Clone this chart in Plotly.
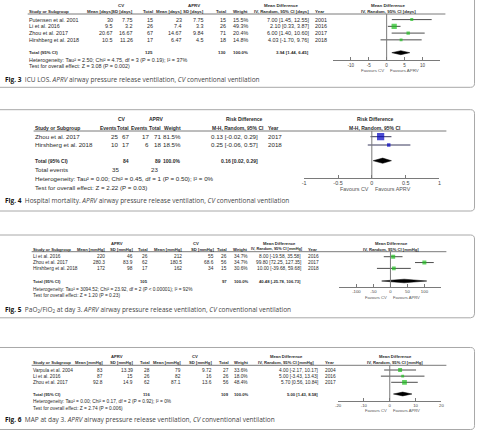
import plotly.graph_objects as go

W, H = 480, 435

# ---------------- DATA ----------------
# Fig. 3  ICU LOS
f3_study = ["Putensen et al. 2001", "Li et al. 2016", "Zhou et al. 2017", "Hirshberg et al. 2018"]
f3_cv_mean = ["30", "9.5", "20.67", "10.5"]
f3_cv_sd = ["7.75", "3.2", "16.67", "11.26"]
f3_cv_total = [15, 26, 67, 17]
f3_aprv_mean = ["23", "7.4", "14.67", "6.47"]
f3_aprv_sd = ["7.75", "3.3", "9.84", "4.5"]
f3_aprv_total = [15, 26, 71, 18]
f3_weight = [15.5, 49.3, 20.4, 14.8]
f3_md = [7.00, 2.10, 6.00, 4.03]
f3_lo = [1.45, 0.33, 1.40, -1.70]
f3_hi = [12.55, 3.87, 10.60, 9.76]
f3_year = [2001, 2016, 2017, 2018]
f3_pooled = [3.94, 1.44, 6.45]
f3_het = "Heterogeneity: Tau² = 2.50; Chi² = 4.75, df = 3 (P = 0.19); I² = 37%"
f3_test = "Test for overall effect: Z = 3.08 (P = 0.002)"
f3_ticks = [-10, -5, 0, 5, 10]
f3_ticktext = ["-10", "-5", "0", "5", "10"]

# Fig. 4  Hospital mortality
f4_study = ["Zhou et al. 2017", "Hirshberg et al. 2018"]
f4_cv_events = [25, 10]
f4_cv_total = [67, 17]
f4_aprv_events = [17, 6]
f4_aprv_total = [71, 18]
f4_weight = [81.5, 18.5]
f4_rd = [0.13, 0.25]
f4_lo = [-0.02, -0.06]
f4_hi = [0.29, 0.57]
f4_year = [2017, 2018]
f4_pooled = [0.16, 0.02, 0.29]
f4_het = "Heterogeneity: Tau² = 0.00; Chi² = 0.45, df = 1 (P = 0.50); I² = 0%"
f4_test = "Test for overall effect: Z = 2.22 (P = 0.03)"
f4_ticks = [-1, -0.5, 0, 0.5, 1]
f4_ticktext = ["-1", "-0.5", "0", "0.5", "1"]

# Fig. 5  PaO2/FiO2 at day 3
f5_study = ["Li et al. 2016", "Zhou et al. 2017", "Hirshberg et al. 2018"]
f5_aprv_mean = ["220", "280.3", "172"]
f5_aprv_sd = ["46", "83.9", "98"]
f5_aprv_total = [26, 62, 17]
f5_cv_mean = ["212", "180.5", "162"]
f5_cv_sd = ["55", "68.6", "34"]
f5_cv_total = [26, 56, 15]
f5_weight = [34.7, 34.7, 30.6]
f5_md = [8.00, 99.80, 10.00]
f5_lo = [-19.58, 72.25, -39.68]
f5_hi = [35.58, 127.35, 59.68]
f5_year = [2016, 2017, 2018]
f5_pooled = [40.48, -25.78, 106.73]
f5_het = "Heterogeneity: Tau² = 3094.52; Chi² = 23.92, df = 2 (P < 0.00001); I² = 92%"
f5_test = "Test for overall effect: Z = 1.20 (P = 0.23)"
f5_ticks = [-100, -50, 0, 50, 100]
f5_ticktext = ["-100", "-50", "0", "50", "100"]

# Fig. 6  MAP at day 3
f6_study = ["Varpula et al. 2004", "Li et al. 2016", "Zhou et al. 2017"]
f6_aprv_mean = ["83", "87", "92.8"]
f6_aprv_sd = ["13.39", "15", "14.9"]
f6_aprv_total = [28, 26, 62]
f6_cv_mean = ["79", "82", "87.1"]
f6_cv_sd = ["9.72", "16", "13.6"]
f6_cv_total = [27, 26, 56]
f6_weight = [33.6, 18.0, 48.4]
f6_md = [4.00, 5.00, 5.70]
f6_lo = [-2.17, -3.43, 0.56]
f6_hi = [10.17, 13.43, 10.84]
f6_year = [2004, 2016, 2017]
f6_pooled = [5.00, 1.43, 8.58]
f6_het = "Heterogeneity: Tau² = 0.00; Chi² = 0.17, df = 2 (P = 0.92); I² = 0%"
f6_test = "Test for overall effect: Z = 2.74 (P = 0.006)"
f6_ticks = [-20, -10, 0, 10, 20]
f6_ticktext = ["-20", "-10", "0", "10", "20"]

captions = [
    ("Fig. 3", "ICU LOS. <i>APRV</i> airway pressure release ventilation, <i>CV</i> conventional ventilation"),
    ("Fig. 4", "Hospital mortality. <i>APRV</i> airway pressure release ventilation, <i>CV</i> conventional ventilation"),
    ("Fig. 5", "PaO<sub>2</sub>/FiO<sub>2</sub> at day 3. <i>APRV</i> airway pressure release ventilation, <i>CV</i> conventional ventilation"),
    ("Fig. 6", "MAP at day 3. <i>APRV</i> airway pressure release ventilation, <i>CV</i> conventional ventilation"),
]

# ---------------- HELPERS ----------------
FONT = "Liberation Sans"
TXT = "#2a2a2a"
GRID = "#7a7a7a"
fig = go.Figure()
ann = []
shapes = []
layout_axes = {}


def txt(x, y, s, anchor="left", size=5, bold=False, color=TXT, family=FONT):
    if bold:
        s = f"<b>{s}</b>"
    ann.append(dict(x=x / W, y=1 - y / H, xref="paper", yref="paper", text=s,
                    showarrow=False, xanchor=anchor, yanchor="middle", borderpad=0,
                    font=dict(size=size, color=color, family=family)))


def hline(x0, x1, y, color=GRID, width=1):
    shapes.append(dict(type="line", xref="paper", yref="paper", x0=x0 / W, x1=x1 / W,
                       y0=1 - y / H, y1=1 - y / H, line=dict(color=color, width=width)))


def rbox(x0, y0, x1, y1, r=4):
    def p(x, y):
        return f"{x / W:.5f},{1 - y / H:.5f}"
    path = (f"M {p(x0 + r, y0)} L {p(x1 - r, y0)} Q {p(x1, y0)} {p(x1, y0 + r)} "
            f"L {p(x1, y1 - r)} Q {p(x1, y1)} {p(x1 - r, y1)} L {p(x0 + r, y1)} "
            f"Q {p(x0, y1)} {p(x0, y1 - r)} L {p(x0, y0 + r)} Q {p(x0, y0)} {p(x0 + r, y0)} Z")
    shapes.append(dict(type="path", xref="paper", yref="paper", path=path,
                       line=dict(color="#a8a8a8", width=1)))


def forest(idx, xl, xr, rng, ticks, ticktext, ytop, yax, row0, dy, md, lo, hi, weights,
           k, pooled, total_px, sq_color, ci_color, dhalf, tsize, fav_y, fsize):
    xn = "x" if idx == 1 else f"x{idx}"
    yn = "y" if idx == 1 else f"y{idx}"
    xa = "xaxis" if idx == 1 else f"xaxis{idx}"
    ya = "yaxis" if idx == 1 else f"yaxis{idx}"
    layout_axes[xa] = dict(domain=[xl / W, xr / W], range=rng, anchor=yn,
                           tickmode="array", tickvals=ticks, ticktext=ticktext,
                           ticks="inside", ticklen=3, tickcolor=GRID, tickwidth=1,
                           showline=True, linecolor=GRID, linewidth=1,
                           showgrid=False, zeroline=False, fixedrange=True,
                           tickfont=dict(size=tsize, family=FONT, color="#444"))
    layout_axes[ya] = dict(domain=[1 - yax / H, 1 - ytop / H],
                           range=[(yax - row0) / dy, (ytop - row0) / dy],
                           visible=False, anchor=xn, fixedrange=True)
    rows = list(range(len(md)))
    xs, ys = [], []
    for r, a, b in zip(rows, lo, hi):
        xs += [a, b, None]
        ys += [r, r, None]
    fig.add_trace(go.Scatter(x=xs, y=ys, mode="lines", line=dict(color=ci_color, width=0.9),
                             xaxis=xn, yaxis=yn, hoverinfo="skip", showlegend=False))
    fig.add_trace(go.Scatter(x=md, y=rows, mode="markers",
                             marker=dict(symbol="square", size=[k * w ** 0.5 for w in weights],
                                         color=sq_color, line=dict(width=0)),
                             xaxis=xn, yaxis=yn, hoverinfo="skip", showlegend=False))
    m, a, b = pooled
    tr = (total_px - row0) / dy
    hh = dhalf / dy
    fig.add_trace(go.Scatter(x=[a, m, b, m, a], y=[tr, tr - hh, tr, tr + hh, tr],
                             mode="lines", fill="toself", fillcolor="black",
                             line=dict(color="black", width=0.5),
                             xaxis=xn, yaxis=yn, hoverinfo="skip", showlegend=False))
    shapes.append(dict(type="line", xref=xn, yref=f"{yn} domain", x0=0, x1=0, y0=0, y1=1,
                       line=dict(color=GRID, width=1)))
    for lab, anc, sh in (("Favours CV", "right", -2), ("Favours APRV", "left", 2)):
        ann.append(dict(x=0, y=1 - fav_y / H, xref=xn, yref="paper", text=lab, showarrow=False,
                        xanchor=anc, yanchor="middle", xshift=sh, borderpad=0,
                        font=dict(size=fsize, family=FONT, color="#555")))


def caption(y, cap):
    head, body = cap
    ann.append(dict(x=1 / W, y=1 - y / H, xref="paper", yref="paper", showarrow=False,
                    xanchor="left", yanchor="middle", borderpad=0,
                    text=f"<b><span style='color:#111'>{head}</span></b>  {body}",
                    font=dict(size=6.5, family="Open Sans", color="#444")))


def ci(md, lo, hi):
    return f"{md:.2f} [{lo:.2f}, {hi:.2f}]"


# ---------------- FIG 3 ----------------
s, hs = 5.4, 4.4
r0, dy = 19.6, 6.75
txt(119, 5.7, "CV", "center", hs, True)
txt(193, 5.7, "APRV", "center", hs, True)
txt(282, 5.7, "Mean Difference", "center", hs, True)
txt(390, 5.7, "Mean Difference", "center", hs, True)
hy = 11.2
txt(25, hy, "Study or Subgroup", "left", hs, True)
for x, h in ((112, "Mean [days]"), (133, "SD [days]"), (153, "Total"),
             (182, "Mean [days]"), (205, "SD [days]"), (227, "Total"), (249, "Weight")):
    txt(x, hy, h, "right", hs, True)
txt(282, hy, "IV, Random, 95% CI [days]", "center", hs, True)
txt(315, hy, "Year", "left", hs, True)
txt(390, hy, "IV, Random, 95% CI [days]", "center", hs, True)
hline(25, 448, 14)
for i in range(len(f3_study)):
    y = r0 + i * dy
    txt(25, y, f3_study[i], "left", s)
    for x, v in ((112, f3_cv_mean[i]), (133, f3_cv_sd[i]), (153, str(f3_cv_total[i])),
                 (182, f3_aprv_mean[i]), (205, f3_aprv_sd[i]), (227, str(f3_aprv_total[i])),
                 (249, f"{f3_weight[i]:.1f}%"), (311, ci(f3_md[i], f3_lo[i], f3_hi[i]))):
        txt(x, y, v, "right", s)
    txt(315, y, str(f3_year[i]), "left", s)
ty = 52.7
txt(25, ty, "Total (95% CI)", "left", hs, True)
txt(153, ty, str(sum(f3_cv_total)), "right", hs, True)
txt(227, ty, str(sum(f3_aprv_total)), "right", hs, True)
txt(249, ty, "100.0%", "right", hs, True)
txt(311, ty, ci(*f3_pooled), "right", hs, True)
txt(25, 59.8, f3_het, "left", s)
txt(25, 66.2, f3_test, "left", s)
forest(1, 334, 443, [-15, 15], f3_ticks, f3_ticktext, 14, 60, r0, dy, f3_md, f3_lo, f3_hi,
       f3_weight, 0.75, f3_pooled, ty, "#1fbf1f", "#3a3a3a", 2.0, 4.6, 70.2, 4.4)
caption(79.3, captions[0])
rbox(-10, -10, 477.5, 87.3)

# ---------------- FIG 4 ----------------
s, hs = 6.2, 5.0
r0, dy = 136.7, 8.3
txt(121, 119, "CV", "center", hs, True)
txt(155, 119, "APRV", "center", hs, True)
txt(245, 119, "Risk Difference", "center", hs, True)
txt(377, 119, "Risk Difference", "center", hs, True)
hy = 127.5
txt(31, hy, "Study or Subgroup", "left", hs, True)
for x, h in ((116, "Events"), (128.5, "Total"), (148, "Events"), (161, "Total"), (181, "Weight")):
    txt(x, hy, h, "right", hs, True)
txt(238, hy, "M-H, Random, 95% CI", "center", hs, True)
txt(267, hy, "Year", "left", hs, True)
txt(377, hy, "M-H, Random, 95% CI", "center", hs, True)
hline(31, 449, 131)
for i in range(len(f4_study)):
    y = r0 + i * dy
    txt(31, y, f4_study[i], "left", s)
    for x, v in ((117, str(f4_cv_events[i])), (128.5, str(f4_cv_total[i])),
                 (149, str(f4_aprv_events[i])), (161, str(f4_aprv_total[i])),
                 (181, f"{f4_weight[i]:.1f}%"), (259, ci(f4_rd[i], f4_lo[i], f4_hi[i]))):
        txt(x, y, v, "right", s)
    txt(267, y, str(f4_year[i]), "left", s)
ty = 160.7
txt(31, ty, "Total (95% CI)", "left", hs, True)
txt(128.5, ty, str(sum(f4_cv_total)), "right", hs, True)
txt(161, ty, str(sum(f4_aprv_total)), "right", hs, True)
txt(181, ty, "100.0%", "right", hs, True)
txt(259, ty, ci(*f4_pooled), "right", hs, True)
txt(31, 169.6, "Total events", "left", s)
txt(118, 169.6, str(sum(f4_cv_events)), "right", s)
txt(158, 169.6, str(sum(f4_aprv_events)), "right", s)
txt(31, 178.8, f4_het, "left", s)
txt(31, 187.6, f4_test, "left", s)
forest(2, 305, 442, [-1, 1], f4_ticks, f4_ticktext, 131, 178, r0, dy, f4_rd, f4_lo, f4_hi,
       f4_weight, 0.8, f4_pooled, ty, "#0000c0", "#22224a", 2.6, 5.4, 189.3, 5.4)
caption(200, captions[1])
rbox(-10, 109.7, 477.5, 211)

# ---------------- FIG 5 ----------------
s, hs = 4.8, 4.2
r0, dy = 256.7, 5.85
txt(115, 243.3, "APRV", "center", hs, True)
txt(195, 243.3, "CV", "center", hs, True)
txt(280, 243.3, "Mean Difference", "center", hs, True)
txt(393, 243.3, "Mean Difference", "center", hs, True)
hy = 249.2
txt(29, hy, "Study or Subgroup", "left", hs, True)
for x, h in ((104, "Mean [mmHg]"), (133, "SD [mmHg]"), (148, "Total"),
             (182, "Mean [mmHg]"), (215, "SD [mmHg]"), (228, "Total"), (248, "Weight")):
    txt(x, hy, h, "right", hs, True)
txt(305, hy, "IV, Random, 95% CI [mmHg]", "right", 3.85, True)
txt(308, hy, "Year", "left", hs, True)
txt(393, hy, "IV, Random, 95% CI [mmHg]", "center", hs, True)
hline(29, 449, 251.7)
for i in range(len(f5_study)):
    y = r0 + i * dy
    txt(29, y, f5_study[i], "left", s)
    for x, v in ((104, f5_aprv_mean[i]), (133, f5_aprv_sd[i]), (148, str(f5_aprv_total[i])),
                 (182, f5_cv_mean[i]), (215, f5_cv_sd[i]), (228, str(f5_cv_total[i])),
                 (249, f"{f5_weight[i]:.1f}%"), (303, ci(f5_md[i], f5_lo[i], f5_hi[i]))):
        txt(x, y, v, "right", s)
    txt(308, y, str(f5_year[i]), "left", s)
ty = 281
txt(29, ty, "Total (95% CI)", "left", hs, True)
txt(148, ty, str(sum(f5_aprv_total)), "right", hs, True)
txt(228, ty, str(sum(f5_cv_total)), "right", hs, True)
txt(249, ty, "100.0%", "right", hs, True)
txt(303, ty, ci(*f5_pooled), "right", hs, True)
txt(29, 289.3, f5_het, "left", s)
txt(29, 295.2, f5_test, "left", s)
forest(3, 340.7, 444, [-150, 150], f5_ticks, f5_ticktext, 251.7, 287.3, r0, dy, f5_md, f5_lo,
       f5_hi, f5_weight, 0.68, f5_pooled, ty, "#1fbf1f", "#3a3a3a", 1.8, 4.3, 297.5, 4.1)
caption(309, captions[2])
rbox(-10, 235, 477.5, 317.8)

# ---------------- FIG 6 ----------------
s, hs = 4.8, 4.2
r0, dy = 370, 6.15
txt(115, 356, "APRV", "center", hs, True)
txt(194, 356, "CV", "center", hs, True)
txt(287, 356, "Mean Difference", "center", hs, True)
txt(397, 356, "Mean Difference", "center", hs, True)
hy = 362.6
txt(29, hy, "Study or Subgroup", "left", hs, True)
for x, h in ((102, "Mean [mmHg]"), (133, "SD [mmHg]"), (150, "Total"),
             (181, "Mean [mmHg]"), (213, "SD [mmHg]"), (230, "Total"), (249, "Weight")):
    txt(x, hy, h, "right", hs, True)
txt(287, hy, "IV, Random, 95% CI [mmHg]", "center", hs, True)
txt(325, hy, "Year", "left", hs, True)
txt(397, hy, "IV, Random, 95% CI [mmHg]", "center", hs, True)
hline(29, 449, 365.3)
for i in range(len(f6_study)):
    y = r0 + i * dy
    txt(29, y, f6_study[i], "left", s)
    for x, v in ((102, f6_aprv_mean[i]), (133, f6_aprv_sd[i]), (150, str(f6_aprv_total[i])),
                 (181, f6_cv_mean[i]), (213, f6_cv_sd[i]), (230, str(f6_cv_total[i])),
                 (249, f"{f6_weight[i]:.1f}%"), (320, ci(f6_md[i], f6_lo[i], f6_hi[i]))):
        txt(x, y, v, "right", s)
    txt(325, y, str(f6_year[i]), "left", s)
ty = 394
txt(29, ty, "Total (95% CI)", "left", hs, True)
txt(150, ty, str(sum(f6_aprv_total)), "right", hs, True)
txt(230, ty, str(sum(f6_cv_total)), "right", hs, True)
txt(249, ty, "100.0%", "right", hs, True)
txt(320, ty, ci(*f6_pooled), "right", hs, True)
txt(29, 401, f6_het, "left", s)
txt(29, 408.3, f6_test, "left", s)
forest(4, 339.3, 444, [-20, 20], f6_ticks, f6_ticktext, 365.3, 401, r0, dy, f6_md, f6_lo,
       f6_hi, f6_weight, 0.68, f6_pooled, ty, "#1fbf1f", "#3a3a3a", 1.9, 4.3, 410.7, 4.1)
caption(419.5, captions[3])
rbox(-10, 347.5, 477.5, 429.5)

fig.update_layout(width=W, height=H, margin=dict(l=0, r=0, t=0, b=0),
                  paper_bgcolor="white", plot_bgcolor="rgba(0,0,0,0)",
                  showlegend=False, annotations=ann, shapes=shapes, **layout_axes)
fig.write_html("out.html", config={"displayModeBar": False})
